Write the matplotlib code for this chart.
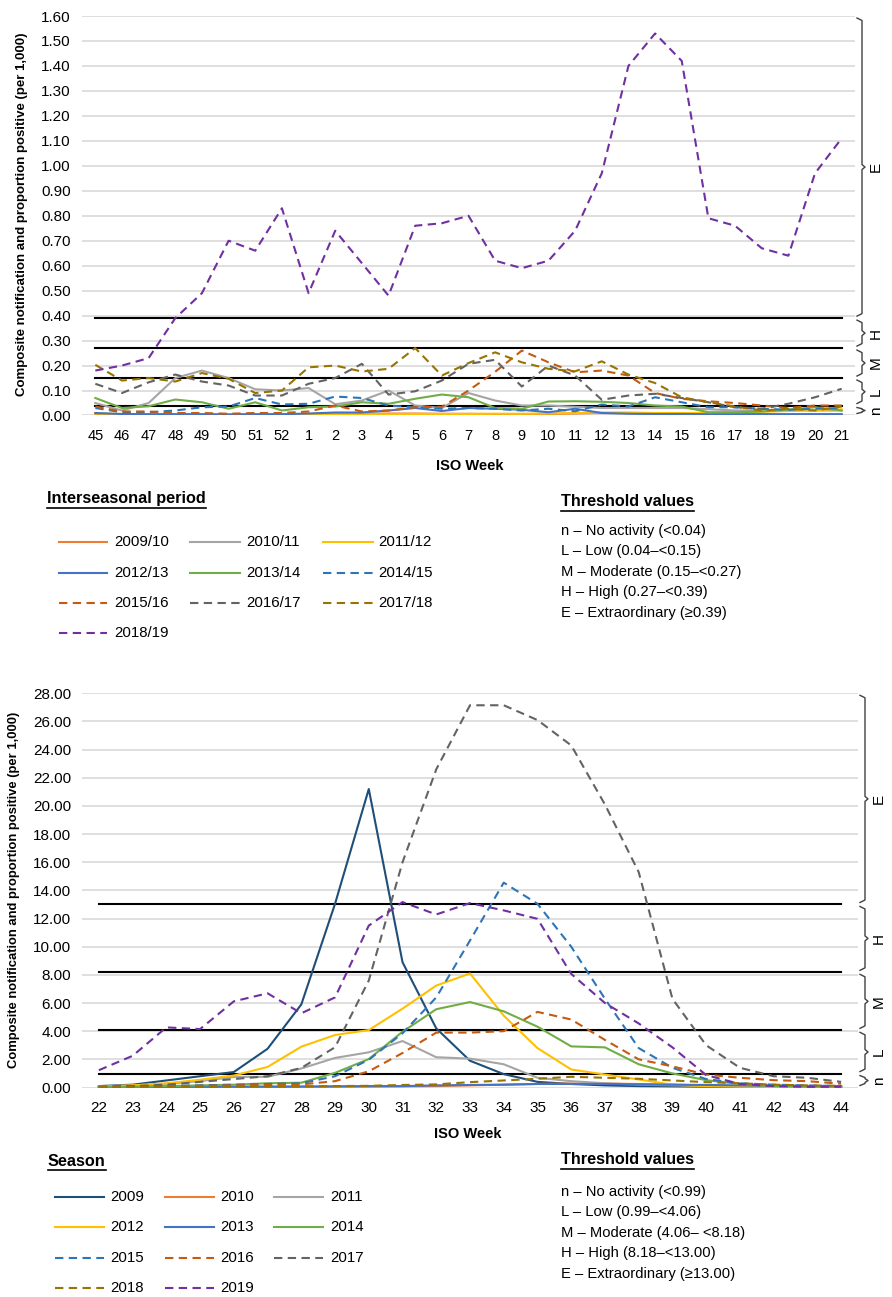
import matplotlib
matplotlib.use('Agg')
import matplotlib.pyplot as plt
from matplotlib import font_manager
from matplotlib.lines import Line2D
import matplotlib.transforms as mtransforms

W, H = 892, 1297

names = set(f.name for f in font_manager.fontManager.ttflist)
NARROW = 'Liberation Sans Narrow' if 'Liberation Sans Narrow' in names else 'Liberation Sans'
plt.rcParams['font.family'] = [NARROW, 'DejaVu Sans']

# ---------------- data: interseasonal period (weeks 45-21) ----------------
inter_weeks = ['45', '46', '47', '48', '49', '50', '51', '52', '1', '2', '3', '4', '5', '6',
               '7', '8', '9', '10', '11', '12', '13', '14', '15', '16', '17', '18', '19', '20', '21']
i2009_10 = [0.004, 0.004, 0.005, 0.005, 0.004, 0.004, 0.005, 0.005, 0.006, 0.006, 0.007, 0.008, 0.008, 0.007, 0.007,
            0.006, 0.006, 0.006, 0.008, 0.010, 0.010, 0.008, 0.008, 0.006, 0.006, 0.006, 0.005, 0.005, 0.005]
i2010_11 = [0.05, 0.02, 0.05, 0.15, 0.18, 0.15, 0.105, 0.10, 0.11, 0.045, 0.06, 0.10, 0.04, 0.03, 0.09,
            0.06, 0.04, 0.04, 0.035, 0.03, 0.03, 0.03, 0.03, 0.025, 0.02, 0.02, 0.02, 0.02, 0.02]
i2011_12 = [0.008, 0.006, 0.006, 0.005, 0.005, 0.004, 0.004, 0.004, 0.004, 0.005, 0.005, 0.005, 0.006, 0.006, 0.006,
            0.007, 0.007, 0.008, 0.010, 0.012, 0.012, 0.010, 0.010, 0.010, 0.012, 0.015, 0.018, 0.022, 0.025]
i2012_13 = [0.010, 0.006, 0.005, 0.005, 0.005, 0.004, 0.005, 0.005, 0.008, 0.012, 0.012, 0.020, 0.030, 0.018, 0.030,
            0.027, 0.023, 0.013, 0.027, 0.010, 0.007, 0.006, 0.006, 0.005, 0.005, 0.005, 0.005, 0.005, 0.005]
i2013_14 = [0.07, 0.03, 0.037, 0.064, 0.053, 0.027, 0.053, 0.02, 0.033, 0.036, 0.053, 0.047, 0.067, 0.084, 0.073,
            0.03, 0.027, 0.056, 0.057, 0.055, 0.05, 0.04, 0.036, 0.013, 0.013, 0.016, 0.023, 0.033, 0.02]
i2014_15 = [0.03, 0.013, 0.013, 0.02, 0.033, 0.036, 0.07, 0.044, 0.047, 0.076, 0.07, 0.04, 0.033, 0.027, 0.03,
            0.027, 0.02, 0.027, 0.017, 0.044, 0.036, 0.073, 0.053, 0.033, 0.033, 0.027, 0.023, 0.027, 0.03]
i2015_16 = [0.036, 0.016, 0.016, 0.01, 0.01, 0.007, 0.01, 0.01, 0.016, 0.04, 0.016, 0.02, 0.033, 0.035, 0.10,
            0.175, 0.26, 0.213, 0.173, 0.18, 0.16, 0.09, 0.067, 0.057, 0.05, 0.04, 0.03, 0.04, 0.04]
i2016_17 = [0.127, 0.09, 0.133, 0.164, 0.136, 0.12, 0.08, 0.08, 0.127, 0.15, 0.207, 0.084, 0.097, 0.14, 0.207,
            0.223, 0.116, 0.20, 0.16, 0.063, 0.08, 0.087, 0.07, 0.053, 0.033, 0.027, 0.047, 0.073, 0.107]
i2017_18 = [0.203, 0.14, 0.15, 0.136, 0.17, 0.147, 0.09, 0.10, 0.193, 0.20, 0.176, 0.187, 0.27, 0.16, 0.21,
            0.253, 0.213, 0.187, 0.177, 0.217, 0.164, 0.13, 0.073, 0.053, 0.036, 0.02, 0.027, 0.02, 0.036]
i2018_19 = [0.18, 0.20, 0.23, 0.39, 0.49, 0.70, 0.66, 0.83, 0.49, 0.74, 0.61, 0.48, 0.76, 0.77, 0.80,
            0.62, 0.59, 0.62, 0.74, 0.97, 1.40, 1.53, 1.42, 0.79, 0.76, 0.67, 0.64, 0.97, 1.11]
inter_labels = ['2009/10', '2010/11', '2011/12', '2012/13', '2013/14', '2014/15', '2015/16', '2016/17', '2017/18', '2018/19']
inter_thresholds = [0.04, 0.15, 0.27, 0.39]
inter_threshold_text = ['n \u2013 No activity (<0.04)', 'L \u2013 Low (0.04\u2013<0.15)',
                        'M \u2013 Moderate (0.15\u2013<0.27)', 'H \u2013 High (0.27\u2013<0.39)',
                        'E \u2013 Extraordinary (\u22650.39)']

# ---------------- data: season (weeks 22-44) ----------------
season_weeks = [str(w) for w in range(22, 45)]
s2009 = [0.10, 0.20, 0.50, 0.80, 1.10, 2.75, 5.90, 13.05, 21.20, 8.90, 4.20, 1.90, 0.95, 0.40, 0.25, 0.15, 0.10, 0.08, 0.06, 0.05, 0.05, 0.04, 0.04]
s2010 = [0.03, 0.03, 0.04, 0.04, 0.05, 0.05, 0.05, 0.06, 0.06, 0.08, 0.10, 0.15, 0.20, 0.25, 0.28, 0.28, 0.25, 0.20, 0.15, 0.10, 0.08, 0.06, 0.05]
s2011 = [0.10, 0.15, 0.25, 0.45, 0.75, 0.76, 1.35, 2.10, 2.50, 3.30, 2.15, 2.05, 1.65, 0.69, 0.45, 0.30, 0.20, 0.15, 0.12, 0.10, 0.08, 0.07, 0.06]
s2012 = [0.05, 0.15, 0.30, 0.55, 0.85, 1.46, 2.90, 3.73, 4.08, 5.60, 7.24, 8.10, 5.10, 2.80, 1.28, 0.92, 0.57, 0.20, 0.10, 0.06, 0.05, 0.05, 0.05]
s2013 = [0.04, 0.04, 0.05, 0.05, 0.06, 0.06, 0.07, 0.08, 0.10, 0.10, 0.15, 0.18, 0.20, 0.25, 0.25, 0.25, 0.22, 0.20, 0.18, 0.15, 0.12, 0.10, 0.10]
s2014 = [0.05, 0.05, 0.10, 0.15, 0.20, 0.30, 0.34, 1.04, 2.02, 3.96, 5.56, 6.07, 5.41, 4.32, 2.92, 2.85, 1.65, 1.00, 0.52, 0.25, 0.10, 0.06, 0.05]
s2015 = [0.05, 0.10, 0.10, 0.15, 0.20, 0.25, 0.30, 0.80, 1.97, 3.85, 6.40, 10.44, 14.55, 13.05, 10.00, 6.30, 2.80, 1.40, 0.60, 0.30, 0.20, 0.15, 0.10]
s2016 = [0.05, 0.08, 0.10, 0.12, 0.15, 0.18, 0.22, 0.45, 1.15, 2.45, 3.90, 3.90, 4.00, 5.37, 4.83, 3.38, 2.00, 1.50, 0.92, 0.69, 0.52, 0.45, 0.27]
s2017 = [0.05, 0.10, 0.20, 0.40, 0.60, 0.80, 1.39, 2.86, 7.60, 16.00, 22.60, 27.15, 27.15, 26.10, 24.30, 20.10, 15.30, 6.30, 3.00, 1.40, 0.80, 0.69, 0.40]
s2018 = [0.03, 0.04, 0.05, 0.06, 0.07, 0.08, 0.08, 0.10, 0.12, 0.18, 0.22, 0.38, 0.50, 0.62, 0.76, 0.69, 0.62, 0.50, 0.38, 0.30, 0.20, 0.15, 0.12]
s2019 = [1.23, 2.25, 4.27, 4.15, 6.12, 6.69, 5.27, 6.40, 11.50, 13.17, 12.29, 13.10, 12.58, 11.98, 8.07, 6.00, 4.55, 2.85, 0.88, 0.25, 0.10, 0.05, 0.05]
season_labels = ['2009', '2010', '2011', '2012', '2013', '2014', '2015', '2016', '2017', '2018', '2019']
season_thresholds = [0.99, 4.06, 8.18, 13.00]
season_threshold_text = ['n \u2013 No activity (<0.99)', 'L \u2013 Low (0.99\u2013<4.06)',
                         'M \u2013 Moderate (4.06\u2013 <8.18)', 'H \u2013 High (8.18\u2013<13.00)',
                         'E \u2013 Extraordinary (\u226513.00)']

band_letters = ['n', 'L', 'M', 'H', 'E']

# styles
DASH = (0, (4, 2.6))
inter_styles = [('#ED7D31', '-'), ('#A5A5A5', '-'), ('#FFC000', '-'), ('#4472C4', '-'), ('#70AD47', '-'),
                ('#2E75B6', DASH), ('#C55A11', DASH), ('#636363', DASH), ('#997300', DASH), ('#7030A0', DASH)]
season_styles = [('#1F4E79', '-'), ('#ED7D31', '-'), ('#A5A5A5', '-'), ('#FFC000', '-'), ('#4472C4', '-'),
                 ('#70AD47', '-'), ('#2E75B6', DASH), ('#C55A11', DASH), ('#636363', DASH), ('#997300', DASH),
                 ('#7030A0', DASH)]

YLABEL = 'Composite notification and proportion positive (per 1,000)'
LW = 1.5
TITLE_SIZE = 11.7
LEG_SIZE = 10.8
THR_SIZE = 10.6


def fx(x):
    return x / W


def fy(y):
    return 1 - y / H


def px_axes(fig, left, top, right, bottom):
    return fig.add_axes([fx(left), fy(bottom), (right - left) / W, (bottom - top) / H])


def add_bracket(ax, y0, y1, letter, ymax, hpx, wpx):
    # curly-brace like bracket to the right of the plot area
    tr = mtransforms.blended_transform_factory(ax.transAxes, ax.transData)
    gap = 2.0 * ymax / hpx
    a = y0 + gap
    b = y1 - gap
    xv = 1 + 7.0 / wpx
    xh = 1 + 2.0 / wpx
    xn = 1 + 10.0 / wpx
    m = (a + b) / 2
    c = min(2.5 * ymax / hpx, (b - a) / 5)
    xs = [xh, xv, xv, xn, xv, xv, xh]
    ys = [a, a + c, m - c, m, m + c, b - c, b]
    ax.plot(xs, ys, color='#404040', lw=1.0, transform=tr, clip_on=False)
    ax.text(1 + 21.0 / wpx, m, letter, transform=tr, rotation=90, ha='center', va='center',
            fontsize=11, family='Liberation Sans', color='black', clip_on=False)


def draw_panel(ax, weeks, series, styles, thresholds, ymax, ystep, hpx, wpx, xsize):
    xs = list(range(len(weeks)))
    ax.set_xlim(-0.5, len(weeks) - 0.5)
    ax.set_ylim(0, ymax)
    nt = int(round(ymax / ystep))
    ax.set_yticks([ystep * i for i in range(nt + 1)])
    ax.set_yticklabels(['%.2f' % (ystep * i) for i in range(nt + 1)])
    ax.set_xticks(xs)
    ax.set_xticklabels(weeks)
    ax.grid(axis='y', color='#D9D9D9', lw=1.2)
    ax.set_axisbelow(True)
    for s in ax.spines.values():
        s.set_visible(False)
    ax.tick_params(axis='both', length=0)
    ax.tick_params(axis='x', pad=10, labelsize=xsize)
    ax.tick_params(axis='y', pad=8, labelsize=11)
    for t in thresholds:
        ax.plot([xs[0], xs[-1]], [t, t], color='black', lw=1.5, zorder=2)
    for vals, (col, ls) in zip(series, styles):
        ax.plot(xs, vals, color=col, linestyle=ls, lw=LW, zorder=3)
    edges = [0] + thresholds + [ymax]
    for i, letter in enumerate(band_letters):
        add_bracket(ax, edges[i], edges[i + 1], letter, ymax, hpx, wpx)


def underlined(fig, renderer, x, y, text, size):
    t = fig.text(fx(x), fy(y), text, fontsize=size, fontweight='bold', ha='left', va='center')
    bb = t.get_window_extent(renderer=renderer)
    x0 = bb.x0 / W
    x1 = bb.x1 / W
    yl = bb.y0 / H - 1.5 / H
    fig.add_artist(Line2D([x0, x1], [yl, yl], color='black', lw=1.2, transform=fig.transFigure))


def legend_block(fig, labels, styles, col_line_x, col_text_x, row_y, size):
    for i, (lab, (col, ls)) in enumerate(zip(labels, styles)):
        r, c = divmod(i, 3)
        x0, x1 = col_line_x[c]
        y = row_y[r]
        fig.add_artist(Line2D([fx(x0), fx(x1)], [fy(y), fy(y)], color=col, linestyle=ls, lw=LW,
                              transform=fig.transFigure))
        fig.text(fx(col_text_x[c]), fy(y), lab, fontsize=size, ha='left', va='center')


fig = plt.figure(figsize=(W / 100, H / 100), dpi=100)
renderer = fig.canvas.get_renderer()

# ---------------- top panel ----------------
ax1 = px_axes(fig, 82, 16, 855, 415.5)
draw_panel(ax1, inter_weeks,
           [i2009_10, i2010_11, i2011_12, i2012_13, i2013_14, i2014_15, i2015_16, i2016_17, i2017_18, i2018_19],
           inter_styles, inter_thresholds, 1.6, 0.1, 399.5, 773, 10.5)
fig.text(fx(470), fy(466), 'ISO Week', fontsize=10.5, fontweight='bold', ha='center', va='center')
fig.text(fx(22), fy(214), YLABEL, rotation=90, fontsize=9.5, fontweight='bold', family='Liberation Sans',
         ha='center', va='center')

underlined(fig, renderer, 47, 499, 'Interseasonal period', TITLE_SIZE)
legend_block(fig, inter_labels, inter_styles, [(59, 107), (190, 240), (323, 373)], [114, 246, 378],
             [542, 573, 603, 633], LEG_SIZE)
underlined(fig, renderer, 561, 502, 'Threshold values', TITLE_SIZE)
for k, txt in enumerate(inter_threshold_text):
    fig.text(fx(561), fy(531 + 20.4 * k), txt, fontsize=THR_SIZE, ha='left', va='center')

# ---------------- bottom panel ----------------
ax2 = px_axes(fig, 82, 693.3, 858, 1087.5)
draw_panel(ax2, season_weeks,
           [s2009, s2010, s2011, s2012, s2013, s2014, s2015, s2016, s2017, s2018, s2019],
           season_styles, season_thresholds, 28.0, 2.0, 394.2, 776, 11)
fig.text(fx(468), fy(1134), 'ISO Week', fontsize=10.5, fontweight='bold', ha='center', va='center')
fig.text(fx(14), fy(890), YLABEL, rotation=90, fontsize=9.4, fontweight='bold', family='Liberation Sans',
         ha='center', va='center')

underlined(fig, renderer, 48, 1161, 'Season', TITLE_SIZE)
legend_block(fig, season_labels, season_styles, [(55, 104), (165, 214), (274, 323)], [110, 220, 330],
             [1197, 1227, 1258, 1288], LEG_SIZE)
underlined(fig, renderer, 561, 1160, 'Threshold values', TITLE_SIZE)
for k, txt in enumerate(season_threshold_text):
    fig.text(fx(561), fy(1192 + 20.4 * k), txt, fontsize=THR_SIZE, ha='left', va='center')

fig.savefig('out.png', dpi=100)
